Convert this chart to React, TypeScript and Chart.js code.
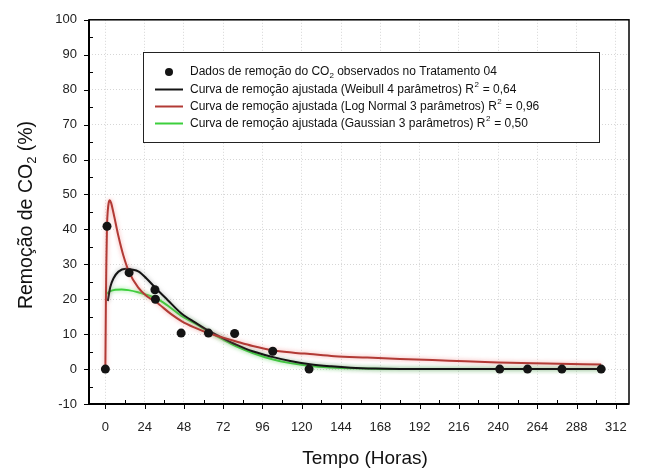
import { useEffect, useRef } from "react";
import { Chart, registerables } from "chart.js";

Chart.register(...registerables);

const FONT = "'Liberation Sans', Arial, Helvetica, sans-serif";

// Observed data (Tratamento 04)
const obsTime = [0, 1, 14.5, 30.3, 30.6, 46.3, 63, 79, 102.3, 124.5, 241, 258, 279, 303];
const obsRemoval = [0, 40.9, 27.6, 22.7, 20.0, 10.3, 10.3, 10.2, 5.1, 0, 0, 0, 0, 0];

// Weibull 4 parameters (black)
const weibullTime = [1.5, 3, 5, 8, 12.5, 16, 20.4, 25, 30.5, 38, 46.5, 55, 63, 72, 80, 90, 102, 113, 125, 138, 150, 165, 180, 240, 303];
const weibullValue = [19.5, 23.5, 26.0, 27.9, 28.7, 28.5, 27.9, 26.0, 23.3, 19.8, 15.9, 13.3, 11.0, 8.8, 7.0, 5.1, 3.5, 2.3, 1.4, 0.8, 0.4, 0.15, 0.05, 0, 0];

// Log Normal 3 parameters (red)
const logNormalTime = [0, 0.3, 0.6, 1, 1.5, 2, 2.6, 3.5, 5, 8, 11, 14.3, 20, 25, 31, 40, 47, 55, 63, 72, 80, 90, 102, 115, 125, 140, 160, 180, 210, 240, 270, 303];
const logNormalValue = [0, 18, 30, 40.9, 45.5, 47.5, 48.3, 47.6, 44.6, 38.0, 32.5, 28.0, 23.4, 21.0, 19.2, 15.8, 13.6, 11.8, 10.3, 9.0, 7.9, 6.6, 5.4, 4.7, 4.3, 3.7, 3.3, 2.9, 2.4, 1.9, 1.6, 1.3];

// Gaussian 3 parameters (green)
const gaussianTime = [0.6, 3, 6, 10, 14, 20, 25, 31, 38, 46.5, 55, 63, 72, 80, 90, 102, 113, 125, 138, 150, 170, 240, 303];
const gaussianValue = [21.5, 22.3, 22.7, 22.8, 22.6, 22.0, 21.3, 20.3, 18.2, 15.2, 13.0, 10.7, 8.4, 6.5, 4.6, 2.8, 1.7, 0.9, 0.45, 0.2, 0.05, 0, 0];

const xTicks = [0, 24, 48, 72, 96, 120, 144, 168, 192, 216, 240, 264, 288, 312];
const yTicks = [-10, 0, 10, 20, 30, 40, 50, 60, 70, 80, 90, 100];

const legendObsLabel = ["Dados de remoção do CO", "2", " observados no Tratamento 04"];
const legendCurveLabels = [
  "Curva de remoção ajustada (Weibull 4 parâmetros) R",
  "Curva de remoção ajustada (Log Normal 3 parâmetros) R",
  "Curva de remoção ajustada (Gaussian 3 parâmetros) R",
];
const legendR2 = ["0,64", "0,96", "0,50"];

const BLACK = "#141414";
const RED = "#b23a35";
const GREEN = "#3ccf3c";

const toXY = (xs: number[], ys: number[]) => xs.map((x, i) => ({ x, y: ys[i] }));

const glowPlugin = {
  id: "glow",
  beforeDatasetDraw(chart: any, args: any) {
    const ds = chart.data.datasets[args.index];
    if (ds.glow) {
      chart.ctx.save();
      chart.ctx.shadowColor = ds.glow;
      chart.ctx.shadowBlur = 4;
    }
  },
  afterDatasetDraw(chart: any, args: any) {
    const ds = chart.data.datasets[args.index];
    if (ds.glow) chart.ctx.restore();
  },
};

const framePlugin = {
  id: "frame",
  afterDatasetsDraw(chart: any) {
    const { ctx, chartArea: a, scales } = chart;
    const xs = scales.x;
    const ys = scales.y;
    const line = (x1: number, y1: number, x2: number, y2: number) => {
      ctx.beginPath();
      ctx.moveTo(x1, y1);
      ctx.lineTo(x2, y2);
      ctx.stroke();
    };
    ctx.save();
    ctx.strokeStyle = "#000";
    ctx.lineWidth = 1.5;
    ctx.strokeRect(a.left, a.top, a.right - a.left, a.bottom - a.top);
    ctx.lineWidth = 2;
    ctx.beginPath();
    ctx.moveTo(a.left, a.top);
    ctx.lineTo(a.left, a.bottom);
    ctx.lineTo(a.right, a.bottom);
    ctx.stroke();
    ctx.lineWidth = 1;
    for (let i = 0; i < yTicks.length; i++) {
      const py = Math.round(ys.getPixelForValue(yTicks[i])) + 0.5;
      line(a.left - 5, py, a.left, py);
      if (i < yTicks.length - 1) {
        const pm = Math.round(ys.getPixelForValue((yTicks[i] + yTicks[i + 1]) / 2)) + 0.5;
        line(a.left, pm, a.left + 4, pm);
      }
    }
    for (let i = 0; i < xTicks.length; i++) {
      const px = Math.round(xs.getPixelForValue(xTicks[i])) + 0.5;
      line(px, a.bottom, px, a.bottom + 5);
      if (i < xTicks.length - 1) {
        const pm = Math.round(xs.getPixelForValue((xTicks[i] + xTicks[i + 1]) / 2)) + 0.5;
        line(pm, a.bottom - 4, pm, a.bottom);
      }
    }
    ctx.restore();
  },
};

const textPlugin = {
  id: "texts",
  afterDraw(chart: any) {
    const { ctx, chartArea: a } = chart;
    ctx.save();
    ctx.fillStyle = "#111";
    // X title
    ctx.font = `19px ${FONT}`;
    ctx.textAlign = "center";
    ctx.textBaseline = "middle";
    ctx.fillText("Tempo (Horas)", (a.left + a.right) / 2 + 6, 459);

    // Y title with subscript
    ctx.save();
    ctx.translate(27, 215);
    ctx.rotate(-Math.PI / 2);
    ctx.textAlign = "left";
    ctx.textBaseline = "middle";
    const p1 = "Remoção de CO";
    const p3 = " (%)";
    ctx.font = `19.5px ${FONT}`;
    const w1 = ctx.measureText(p1).width;
    const w3 = ctx.measureText(p3).width;
    ctx.font = `13px ${FONT}`;
    const w2 = ctx.measureText("2").width;
    const total = w1 + w2 + w3;
    let cx = -total / 2;
    ctx.font = `19.5px ${FONT}`;
    ctx.fillText(p1, cx, 0);
    cx += w1;
    ctx.font = `13px ${FONT}`;
    ctx.fillText("2", cx, 5);
    cx += w2;
    ctx.font = `19.5px ${FONT}`;
    ctx.fillText(p3, cx, 0);
    ctx.restore();

    // Legend
    const bx = 143, by = 52, bw = 456, bh = 90;
    ctx.fillStyle = "#fff";
    ctx.fillRect(bx, by, bw, bh);
    ctx.strokeStyle = "#222";
    ctx.lineWidth = 1;
    ctx.strokeRect(bx + 0.5, by + 0.5, bw, bh);

    const tx = 190;
    const rows = [72, 89.5, 106.5, 123.5];
    ctx.textAlign = "left";
    ctx.textBaseline = "middle";
    ctx.fillStyle = BLACK;
    ctx.beginPath();
    ctx.arc(169, rows[0], 4, 0, Math.PI * 2);
    ctx.fill();

    ctx.fillStyle = "#111";
    let x = tx;
    ctx.font = `12px ${FONT}`;
    ctx.fillText(legendObsLabel[0], x, rows[0]);
    x += ctx.measureText(legendObsLabel[0]).width;
    ctx.font = `8px ${FONT}`;
    ctx.fillText(legendObsLabel[1], x, rows[0] + 4);
    x += ctx.measureText(legendObsLabel[1]).width;
    ctx.font = `12px ${FONT}`;
    ctx.fillText(legendObsLabel[2], x, rows[0]);

    const colors = [BLACK, RED, GREEN];
    for (let i = 0; i < 3; i++) {
      const ry = rows[i + 1];
      ctx.strokeStyle = colors[i];
      ctx.lineWidth = 2;
      ctx.beginPath();
      ctx.moveTo(155, ry);
      ctx.lineTo(183, ry);
      ctx.stroke();
      ctx.fillStyle = "#111";
      let lx = tx;
      ctx.font = `12px ${FONT}`;
      ctx.fillText(legendCurveLabels[i], lx, ry);
      lx += ctx.measureText(legendCurveLabels[i]).width;
      ctx.font = `8px ${FONT}`;
      ctx.fillText("2", lx + 0.5, ry - 5);
      lx += ctx.measureText("2").width + 1;
      ctx.font = `12px ${FONT}`;
      ctx.fillText(" = " + legendR2[i], lx, ry);
    }
    ctx.restore();
  },
};

export default function App() {
  const canvasRef = useRef<HTMLCanvasElement | null>(null);

  useEffect(() => {
    const canvas = canvasRef.current;
    if (!canvas) return;
    const chart = new Chart(canvas, {
      type: "scatter",
      data: {
        datasets: [
          {
            label: "Observados",
            data: toXY(obsTime, obsRemoval),
            showLine: false,
            pointRadius: 4.5,
            pointBackgroundColor: BLACK,
            pointBorderColor: BLACK,
            pointBorderWidth: 0,
          },
          {
            label: "Log Normal",
            data: toXY(logNormalTime, logNormalValue),
            showLine: true,
            pointRadius: 0,
            borderColor: RED,
            borderWidth: 2,
            cubicInterpolationMode: "monotone",
            glow: "rgba(240,140,140,0.8)",
          } as any,
          {
            label: "Weibull",
            data: toXY(weibullTime, weibullValue),
            showLine: true,
            pointRadius: 0,
            borderColor: BLACK,
            borderWidth: 2,
            cubicInterpolationMode: "monotone",
            glow: "rgba(120,120,120,0.6)",
          } as any,
          {
            label: "Gaussian",
            data: toXY(gaussianTime, gaussianValue),
            showLine: true,
            pointRadius: 0,
            borderColor: GREEN,
            borderWidth: 2,
            cubicInterpolationMode: "monotone",
            glow: "rgba(120,230,120,0.9)",
          } as any,
        ],
      },
      options: {
        responsive: false,
        animation: false,
        devicePixelRatio: 1,
        layout: { padding: { top: 17, right: 18, left: 0, bottom: 0 } },
        plugins: {
          legend: { display: false },
          tooltip: { enabled: false },
        },
        scales: {
          x: {
            type: "linear",
            min: -10,
            max: 320,
            afterBuildTicks: (s: any) => {
              s.ticks = xTicks.map((v) => ({ value: v }));
            },
            afterFit: (s: any) => {
              s.height = 67;
            },
            grid: { color: "#d6d6d6", lineWidth: 1, drawTicks: false },
            border: { display: false, dash: [1, 2] },
            ticks: {
              font: { family: FONT, size: 13 },
              color: "#222",
              padding: 16,
              maxRotation: 0,
              autoSkip: false,
            },
          },
          y: {
            type: "linear",
            min: -10,
            max: 100,
            afterBuildTicks: (s: any) => {
              s.ticks = yTicks.map((v) => ({ value: v }));
            },
            afterFit: (s: any) => {
              s.width = 89;
            },
            grid: { color: "#d6d6d6", lineWidth: 1, drawTicks: false },
            border: { display: false, dash: [1, 2] },
            ticks: {
              font: { family: FONT, size: 13 },
              color: "#222",
              padding: 12,
              autoSkip: false,
            },
          },
        },
      },
      plugins: [glowPlugin, framePlugin, textPlugin],
    } as any);
    return () => chart.destroy();
  }, []);

  return (
    <div style={{ position: "absolute", left: 0, top: 0, width: 647, height: 471, background: "#fff" }}>
      <canvas ref={canvasRef} width={647} height={471} style={{ display: "block" }} />
    </div>
  );
}
